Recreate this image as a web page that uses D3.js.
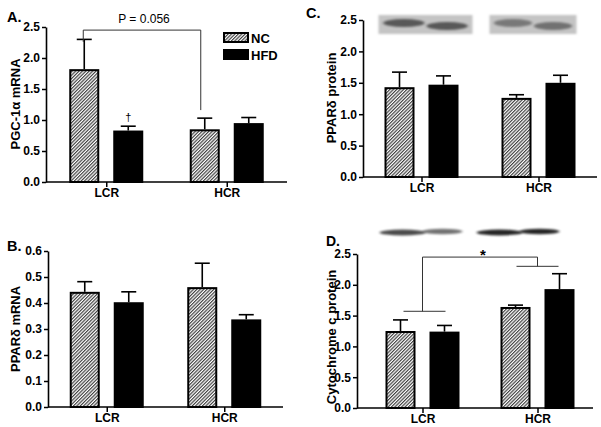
<!DOCTYPE html>
<html><head><meta charset="utf-8">
<script src="https://cdn.jsdelivr.net/npm/d3@7"></script>
<style>
body{margin:0;background:#fff;}
svg{display:block;}
</style></head><body>
<svg id="c" width="601" height="427"></svg>
<script>
const groups = ["LCR", "HCR"];
const series = ["NC", "HFD"];

const pgcMean = [[1.82, 0.83], [0.85, 0.95]];
const pgcErr  = [[0.48, 0.07], [0.18, 0.09]];

const ppardMrnaMean = [[0.443, 0.403], [0.461, 0.337]];
const ppardMrnaErr  = [[0.039, 0.040], [0.092, 0.018]];

const ppardProtMean = [[1.43, 1.47], [1.26, 1.50]];
const ppardProtErr  = [[0.24, 0.14], [0.05, 0.12]];

const cytcMean = [[1.25, 1.24], [1.64, 1.93]];
const cytcErr  = [[0.18, 0.10], [0.03, 0.25]];

const ticks25 = [0, 0.5, 1.0, 1.5, 2.0, 2.5];
const ticks06 = [0, 0.1, 0.2, 0.3, 0.4, 0.5, 0.6];

const FONT = "Liberation Sans, Arial, sans-serif";
const svg = d3.select("#c").attr("font-family",FONT);
const defs = svg.append("defs");
const pat = defs.append("pattern").attr("id","hatch").attr("patternUnits","userSpaceOnUse")
  .attr("width",2.4).attr("height",2.4).attr("patternTransform","rotate(45)");
pat.append("rect").attr("width",2.4).attr("height",2.4).attr("fill","#fff");
pat.append("line").attr("x1",0.6).attr("y1",0).attr("x2",0.6).attr("y2",2.4)
  .attr("stroke","#333").attr("stroke-width",1.1);
const blur = defs.append("filter").attr("id","blur").attr("x","-30%").attr("y","-100%").attr("width","160%").attr("height","300%");
blur.append("feGaussianBlur").attr("stdDeviation","1.8 1.3");
const blur2 = defs.append("filter").attr("id","blur2").attr("x","-10%").attr("y","-20%").attr("width","120%").attr("height","140%");
blur2.append("feGaussianBlur").attr("stdDeviation","0.8");

function txt(sel){ return sel.append("text").attr("font-family",FONT); }

function panel(cfg){
  const g = svg.append("g");
  const y = d3.scaleLinear().domain(cfg.domain).range([cfg.y0, cfg.yTop]);
  const xg = d3.scalePoint().domain(groups).range([cfg.px0, cfg.px1]).padding(0.5);
  const xs = d3.scaleBand().domain(series).range([-37, 37]).paddingInner(0.318);

  // y axis
  const ya = g.append("g").attr("transform",`translate(${cfg.x0},0)`)
    .call(d3.axisLeft(y).tickValues(cfg.ticks).tickFormat(d3.format(".1f")).tickSize(4).tickPadding(2).tickSizeOuter(0));
  ya.attr("font-family",FONT);
  ya.select(".domain").attr("stroke","#000").attr("stroke-width",1.6);
  ya.selectAll(".tick line").attr("stroke","#000").attr("stroke-width",1.5);
  ya.selectAll(".tick text").attr("font-family",FONT).attr("font-size",12).attr("font-weight","bold").attr("fill","#000");

  // x axis
  const xa = g.append("g").attr("transform",`translate(0,${cfg.y0})`)
    .call(d3.axisBottom(xg).tickSize(5).tickPadding(3).tickSizeOuter(0));
  xa.attr("font-family",FONT);
  xa.select(".domain").attr("d",`M${cfg.x0},0H${cfg.x1}`).attr("stroke","#000").attr("stroke-width",1.6);
  xa.selectAll(".tick line").attr("stroke","#000").attr("stroke-width",1.5);
  xa.selectAll(".tick text").attr("font-family",FONT).attr("font-size",12).attr("font-weight","bold").attr("fill","#000").attr("dy","0.58em");

  const data = [];
  groups.forEach((gr,i)=>series.forEach((s,j)=>data.push({g:gr,s:s,v:cfg.mean[i][j],e:cfg.err[i][j]})));

  // error bars
  const eb = g.append("g").attr("stroke","#000").attr("stroke-width",1.6);
  data.forEach(d=>{
    const cx = xg(d.g)+xs(d.s)+xs.bandwidth()/2;
    eb.append("line").attr("x1",cx).attr("x2",cx).attr("y1",y(d.v)).attr("y2",y(d.v+d.e));
    eb.append("line").attr("x1",cx-7.5).attr("x2",cx+7.5).attr("y1",y(d.v+d.e)).attr("y2",y(d.v+d.e));
  });
  // bars
  g.append("g").selectAll("rect").data(data).join("rect")
    .attr("x",d=>xg(d.g)+xs(d.s)+1)
    .attr("width",xs.bandwidth()-2)
    .attr("y",d=>y(d.v)+1)
    .attr("height",d=>y(0)-y(d.v)-1)
    .attr("fill",d=>d.s==="NC"?"url(#hatch)":"#000")
    .attr("stroke","#000").attr("stroke-width",2);

  // y label (fit to the length seen in the reference)
  const yl = txt(g).attr("transform",`translate(${cfg.labelX},${cfg.labelY}) rotate(-90)`)
    .attr("text-anchor","middle").attr("font-size",13).attr("font-weight","bold").text(cfg.ylabel);
  const len = yl.node().getComputedTextLength();
  if (len > cfg.labelMax) yl.attr("font-size", 13*cfg.labelMax/len);
  // panel letter
  txt(g).attr("x",cfg.letterX).attr("y",cfg.letterY).attr("font-size",cfg.letterSize||14.5).attr("font-weight","bold").text(cfg.letter);
  return {g, y, xg, xs};
}

// Panel A
const A = panel({domain:[0,2.5], ticks:ticks25, x0:46, x1:287, px0:46, px1:287, y0:182, yTop:27,
  mean:pgcMean, err:pgcErr, ylabel:"PGC-1α mRNA", labelX:20, labelY:104, labelMax:92, letter:"A.", letterX:7, letterY:22});
{
  const {g,y,xg,xs} = A;
  const cL = xg("LCR")+xs("NC")+xs.bandwidth()/2 - 1;
  const cR = xg("HCR")+xs("NC")+xs.bandwidth()/2 - 4;
  g.append("path").attr("d",`M${cL},${y(2.26)}V${y(2.45)}H${cR}V${y(1.16)}`)
    .attr("fill","none").attr("stroke","#333").attr("stroke-width",1);
  txt(g).attr("x",(cL+cR)/2+2).attr("y",y(2.5)-4).attr("text-anchor","middle").attr("font-size",12).text("P = 0.056");
  const cH = xg("LCR")+xs("HFD")+xs.bandwidth()/2;
  txt(g).attr("x",cH).attr("y",y(0.99)).attr("text-anchor","middle").attr("font-size",11).text("†");
  // legend
  const lg = g.append("g");
  series.forEach((s,i)=>{
    lg.append("rect").attr("x",224).attr("y",33+i*17).attr("width",24).attr("height",9)
      .attr("fill",s==="NC"?"url(#hatch)":"#000").attr("stroke","#000").attr("stroke-width",2);
    txt(lg).attr("x",251).attr("y",42.5+i*17).attr("font-size",13).attr("font-weight","bold").text(s);
  });
}

// Panel B
panel({domain:[0,0.6], ticks:ticks06, x0:48, x1:283, px0:48, px1:283, y0:407, yTop:251,
  mean:ppardMrnaMean, err:ppardMrnaErr, ylabel:"PPARδ mRNA", labelX:20, labelY:329, labelMax:86, letter:"B.", letterX:7, letterY:251});

// Panel C
const C = panel({domain:[0,2.5], ticks:ticks25, x0:363, x1:597, px0:363, px1:597, y0:177, yTop:20,
  mean:ppardProtMean, err:ppardProtErr, ylabel:"PPARδ protein", labelX:336, labelY:98, labelMax:94, letter:"C.", letterX:306, letterY:18});
{
  const {g,xg} = C;
  const bl = g.append("g");
  [["LCR",-43,94,[0.55,0.55]],["HCR",-49,87,[0.38,0.42]]].forEach(([gr,off,w,dk])=>{
    const x = xg(gr)+off;
    bl.append("rect").attr("x",x).attr("y",15).attr("width",w).attr("height",19).attr("fill","#c4c4c4").attr("filter","url(#blur2)");
    bl.append("ellipse").attr("cx",x+w*0.27).attr("cy",23).attr("rx",w*0.22).attr("ry",4).attr("fill","#000").attr("opacity",dk[0]).attr("filter","url(#blur)");
    bl.append("ellipse").attr("cx",x+w*0.73).attr("cy",26).attr("rx",w*0.22).attr("ry",4).attr("fill","#000").attr("opacity",dk[1]).attr("filter","url(#blur)");
  });
}

// Panel D
const D = panel({domain:[0,2.5], ticks:ticks25, x0:357, x1:593, px0:365, px1:595, y0:408, yTop:254,
  mean:cytcMean, err:cytcErr, ylabel:"Cytochrome c protein", labelX:336, labelY:337, labelMax:138, letter:"D.", letterX:326, letterY:245.5, letterSize:14});
{
  const {g,y,xg} = D;
  const bl = g.append("g");
  [["LCR",-42,[0.7,0.55]],["HCR",-60,[0.85,0.85]]].forEach(([gr,off,dk])=>{
    const x = xg(gr)+off;
    bl.append("ellipse").attr("cx",x+22).attr("cy",232.5).attr("rx",23).attr("ry",3).attr("fill","#000").attr("opacity",dk[0]).attr("filter","url(#blur)");
    bl.append("ellipse").attr("cx",x+62).attr("cy",231.5).attr("rx",20).attr("ry",2.8).attr("fill","#000").attr("opacity",dk[1]).attr("filter","url(#blur)");
  });
  const lc = xg("LCR"), hc = xg("HCR");
  const pth = `M${lc-19},${y(1.57)}H${lc+23}M${lc},${y(1.57)}V${y(2.45)}H${hc}V${y(2.30)}M${hc-21},${y(2.30)}H${hc+21}`;
  g.append("path").attr("d",pth).attr("fill","none").attr("stroke","#333").attr("stroke-width",1);
  txt(g).attr("x",(lc+hc)/2+3).attr("y",y(2.45)+3).attr("text-anchor","middle").attr("font-size",15).attr("font-weight","bold").text("*");
}
</script>
</body></html>
